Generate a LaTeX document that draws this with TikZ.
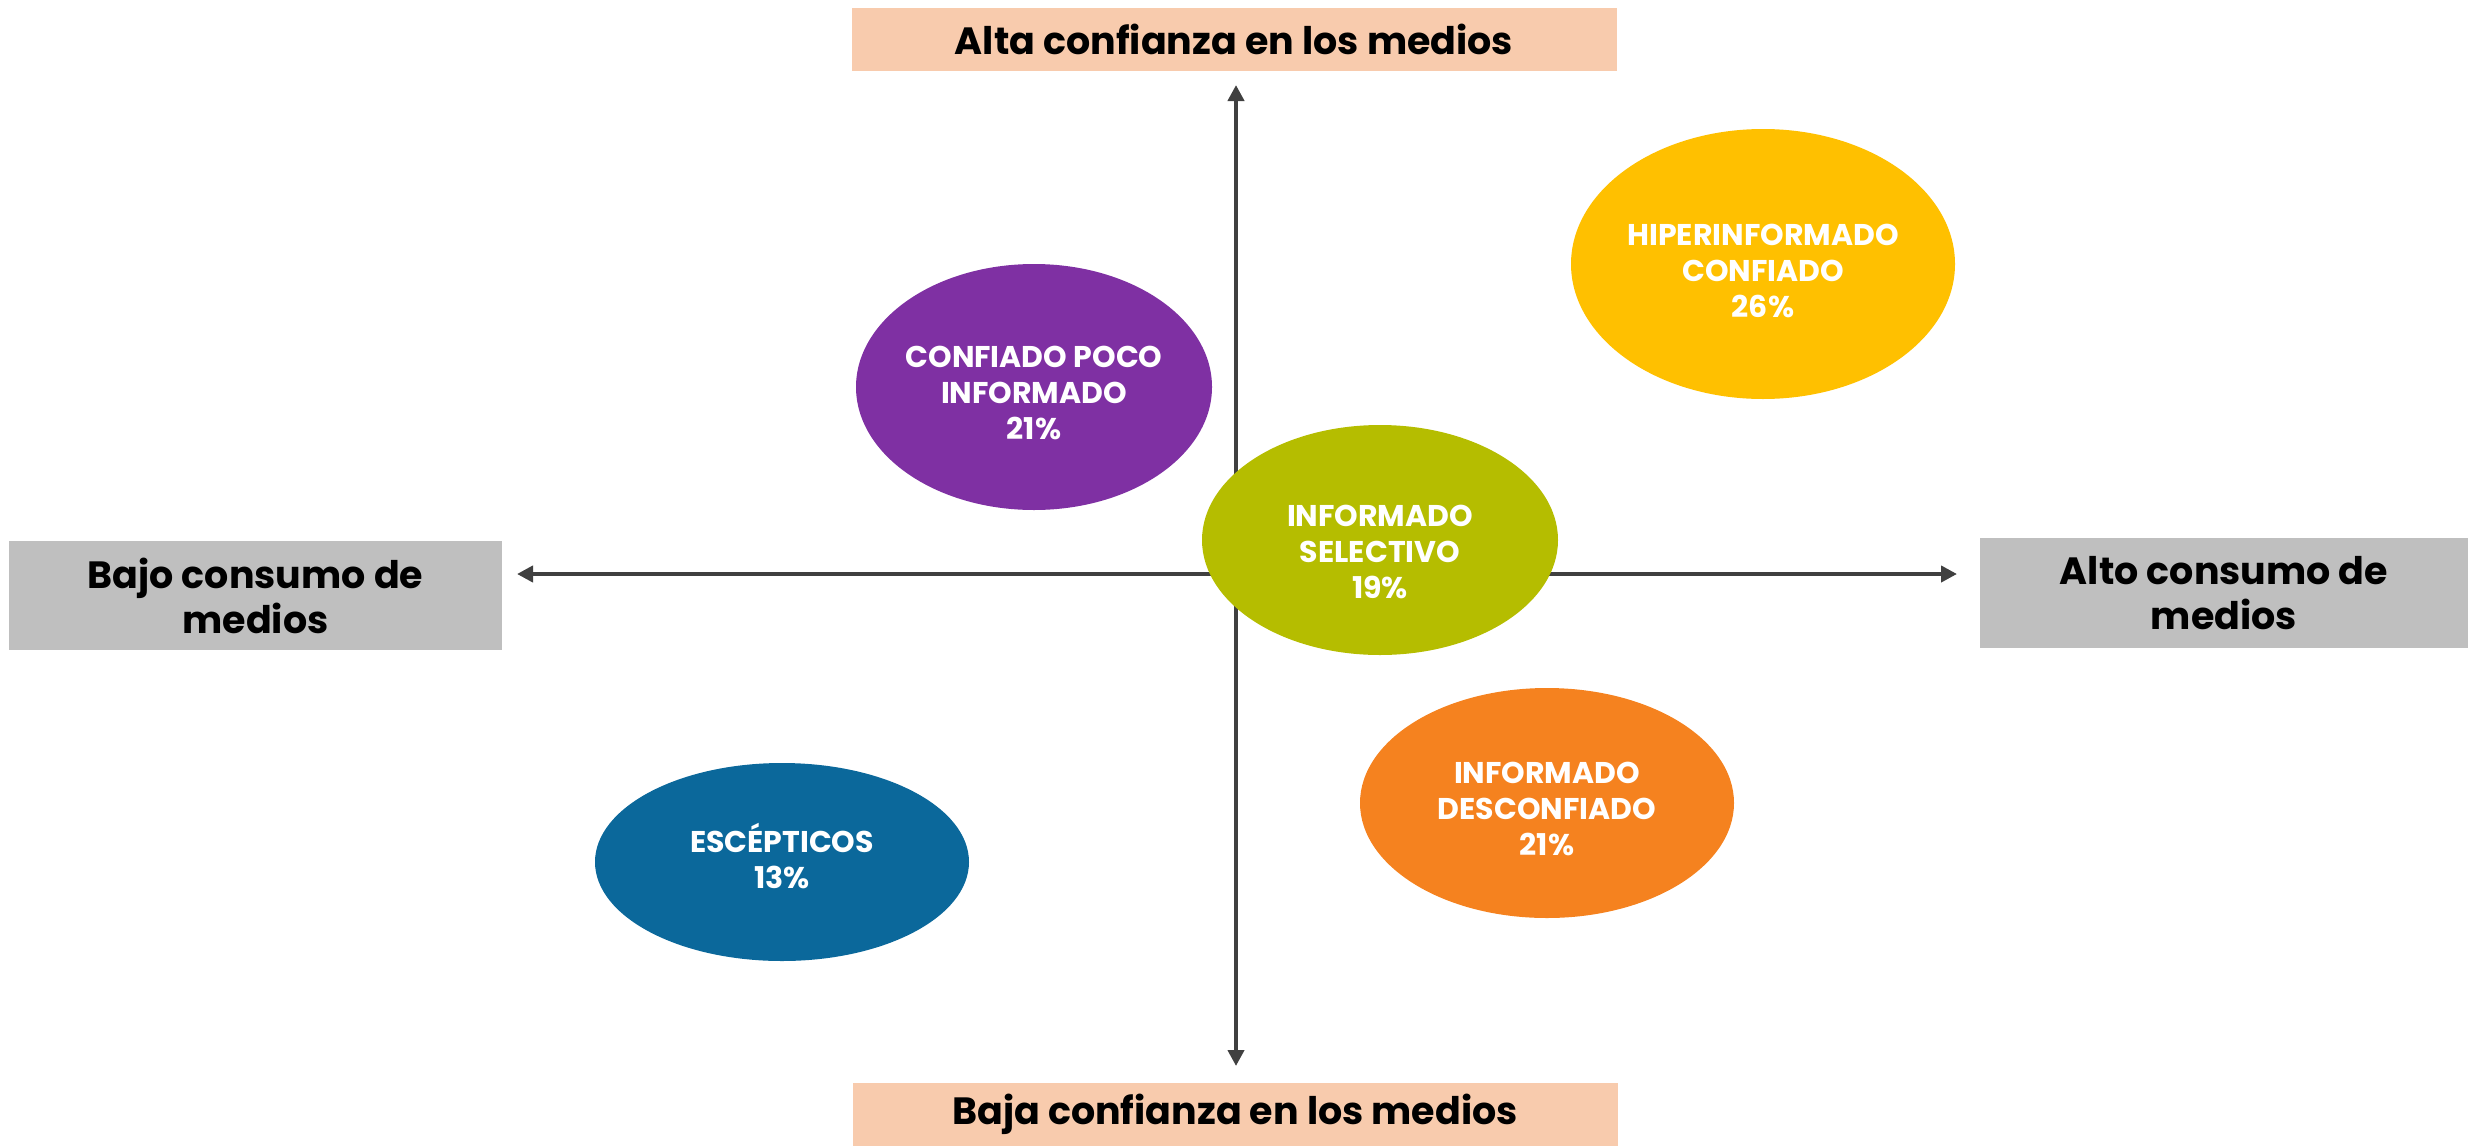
\documentclass[tikz,border=0pt]{standalone}
\usepackage{fontspec}
\setmainfont{Poppins}
\usetikzlibrary{shapes.geometric,arrows.meta}
\definecolor{cpurple}{HTML}{7F30A3}
\definecolor{cyellow}{HTML}{FFC000}
\definecolor{cgreen}{HTML}{B5BD00}
\definecolor{corange}{HTML}{F5821F}
\definecolor{cblue}{HTML}{0B689B}
\definecolor{cpeach}{HTML}{F8CBAD}
\definecolor{cgray}{HTML}{BFBFBF}
\definecolor{caxis}{HTML}{404040}
\begin{document}
\begin{tikzpicture}[x=1pt,y=-1pt,
  oval/.style={ellipse,inner sep=0pt},
  ovaltext/.style={inner sep=0pt,text=white,align=center,font=\fontsize{30}{36}\selectfont\bfseries},
  vlabel/.style={fill=cpeach,inner sep=0pt,font=\fontsize{38}{45}\selectfont\bfseries,align=center},
  hlabel/.style={fill=cgray,inner sep=0pt,font=\fontsize{38}{45}\selectfont\bfseries,align=center},
  axis/.style={draw=caxis,line width=4.5pt,{Triangle[length=16pt,width=16pt]}-{Triangle[length=16pt,width=16pt]}}]
\useasboundingbox (0,0) rectangle (2468,1146);
% labels
\node[vlabel,minimum width=765pt,minimum height=63pt] (top) at (1234,39.5) {Alta confianza en los medios};
\node[vlabel,minimum width=765pt,minimum height=63pt] (bot) at (1235,1114.5) {Baja confianza en los medios};
\node[hlabel,minimum width=493pt,minimum height=109pt] (left) at (255.5,595.5) {Bajo consumo de\\medios};
\node[hlabel,minimum width=488pt,minimum height=110pt] (right) at (2224,593) {Alto consumo de\\medios};
% axes
\coordinate (vt) at (1236,85);
\coordinate (vb) at (1236,1066);
\coordinate (hl) at (517,574);
\coordinate (hr) at (1957,574);
\draw[axis] (vb) -- (vt);
\draw[axis] (hl) -- (hr);
% ellipses
\node[oval,fill=cpurple,minimum width=356pt,minimum height=246pt] (poco) at (1034,387) {};
\node[ovaltext] (pocot) at ([yshift=-6pt]poco.center) {CONFIADO POCO\\INFORMADO\\21\%};
\node[oval,fill=cyellow,minimum width=384pt,minimum height=270pt] (hiper) at (1763,264) {};
\node[ovaltext] (hipert) at ([yshift=-7pt]hiper.center) {HIPERINFORMADO\\CONFIADO\\26\%};
\node[oval,fill=cgreen,minimum width=356pt,minimum height=230pt] (selec) at (1380,540) {};
\node[ovaltext] (select) at ([yshift=-12pt]selec.center) {INFORMADO\\SELECTIVO\\19\%};
\node[oval,fill=corange,minimum width=374pt,minimum height=230pt] (desc) at (1547,803) {};
\node[ovaltext] (desct) at ([yshift=-6pt]desc.center) {INFORMADO\\DESCONFIADO\\21\%};
\node[oval,fill=cblue,minimum width=374pt,minimum height=198pt] (escep) at (782,862) {};
\node[ovaltext] (esceptt) at ([yshift=6pt]escep.center) {ESCÉPTICOS\\13\%};
\end{tikzpicture}
\end{document}
